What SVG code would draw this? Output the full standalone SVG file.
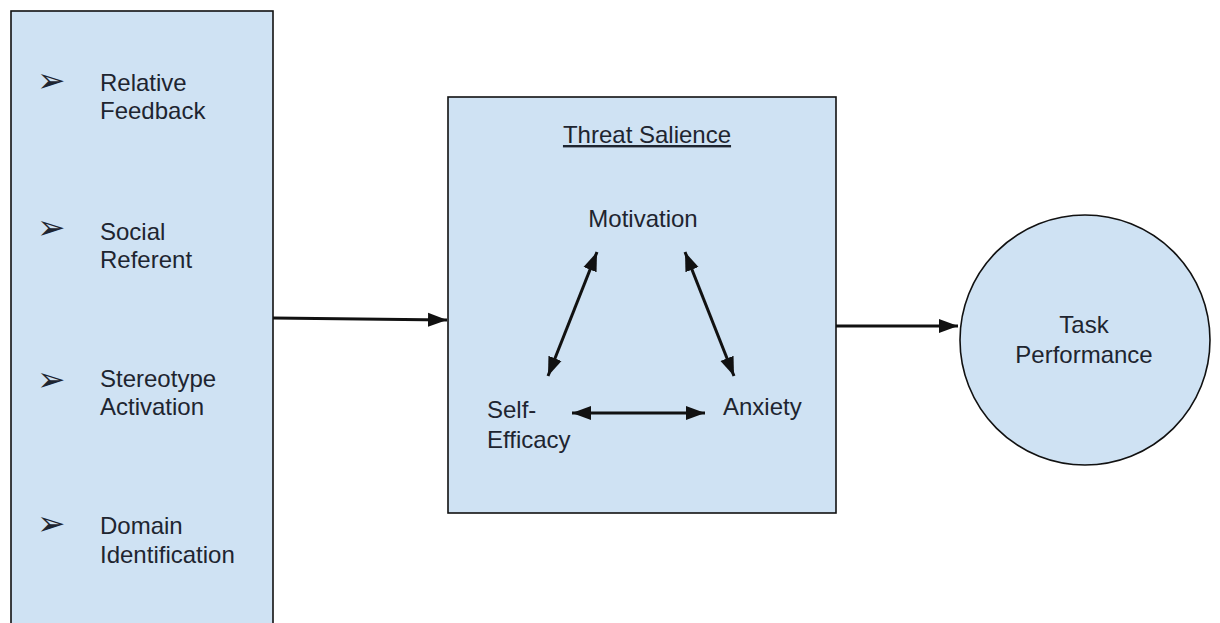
<svg xmlns="http://www.w3.org/2000/svg" width="1220" height="623" viewBox="0 0 1220 623">
<style>
.box{fill:#cfe2f3;stroke:#111;stroke-width:1.6}
.t{font-family:"Liberation Sans",Arial,sans-serif;font-size:24px;fill:#1e2530}
.b{font-family:"DejaVu Sans",sans-serif;font-size:34px;fill:#1e2530}
.c{stroke:#111;stroke-width:3;fill:none}
</style>
<defs>
<marker id="ah" markerUnits="userSpaceOnUse" markerWidth="20" markerHeight="16" refX="19" refY="8" orient="auto-start-reverse" viewBox="0 0 20 16">
<path d="M0,1 L19,8 L0,15 Z" fill="#111"/>
</marker>
</defs>
<rect width="1220" height="623" fill="#fff"/>
<g id="factors">
<rect class="box" x="11" y="11" width="262" height="640"/>
<text class="b" x="37" y="92">➢</text>
<text class="t" x="100" y="91">Relative</text>
<text class="t" x="100" y="119">Feedback</text>
<text class="b" x="37" y="239">➢</text>
<text class="t" x="100" y="240">Social</text>
<text class="t" x="100" y="268">Referent</text>
<text class="b" x="37" y="391">➢</text>
<text class="t" x="100" y="387">Stereotype</text>
<text class="t" x="100" y="415">Activation</text>
<text class="b" x="37" y="535">➢</text>
<text class="t" x="100" y="534">Domain</text>
<text class="t" x="100" y="563">Identification</text>
</g>
<g id="threat-salience">
<rect class="box" x="448" y="97" width="388" height="416"/>
<text class="t" x="647" y="143" text-anchor="middle" text-decoration="underline">Threat Salience</text>
</g>
<g id="motivation"><text class="t" x="643" y="227" text-anchor="middle">Motivation</text></g>
<g id="self-efficacy">
<text class="t" x="487" y="418">Self-</text>
<text class="t" x="487" y="448">Efficacy</text>
</g>
<g id="anxiety"><text class="t" x="723" y="415">Anxiety</text></g>
<g id="task-performance">
<circle class="box" cx="1085" cy="340" r="125"/>
<text class="t" x="1084" y="333" text-anchor="middle">Task</text>
<text class="t" x="1084" y="363" text-anchor="middle">Performance</text>
</g>
<g id="connectors">
<line class="c" x1="273" y1="318" x2="447" y2="320" stroke-width="2.5" marker-end="url(#ah)"/>
<line class="c" x1="836" y1="326" x2="958" y2="326" stroke-width="2.5" marker-end="url(#ah)"/>
<line class="c" x1="597" y1="252" x2="548" y2="376" marker-start="url(#ah)" marker-end="url(#ah)"/>
<line class="c" x1="685" y1="252" x2="734" y2="376" marker-start="url(#ah)" marker-end="url(#ah)"/>
<line class="c" x1="572" y1="413" x2="705" y2="413" marker-start="url(#ah)" marker-end="url(#ah)"/>
</g>
</svg>
